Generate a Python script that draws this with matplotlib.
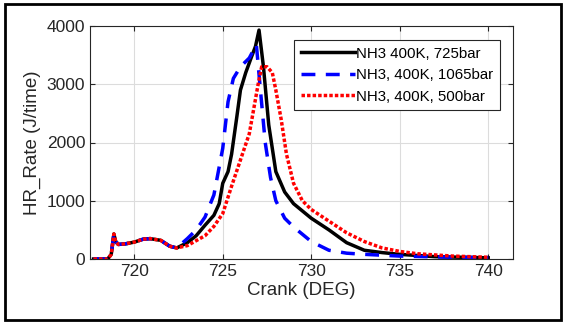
import matplotlib
matplotlib.use("Agg")
from matplotlib import pyplot as plt
from matplotlib.patches import Rectangle

plt.rcParams['font.family'] = ['Liberation Sans', 'DejaVu Sans']

# 725 bar case (solid black)
crank_725 = [717.7, 718.5, 718.7, 718.85, 718.95, 719.1, 719.5, 720.0, 720.5, 720.9, 721.5,
             722.0, 722.4, 723.0, 723.5, 724.0, 724.5, 724.8, 725.0, 725.3, 725.5, 725.8,
             726.0, 726.3, 726.6, 726.85, 727.05, 727.3, 727.6, 728.0, 728.5, 729.0, 730.0,
             731.0, 732.0, 733.0, 734.0, 735.0, 737.0, 740.0]
hr_725 = [0, 0, 80, 430, 300, 250, 260, 290, 340, 350, 320,
          220, 190, 280, 400, 580, 750, 950, 1300, 1500, 1800, 2450,
          2900, 3200, 3450, 3650, 3930, 3300, 2300, 1500, 1150, 950, 700,
          500, 280, 150, 110, 80, 40, 20]

# 1065 bar case (dashed blue)
crank_1065 = [717.7, 718.5, 718.7, 718.85, 718.95, 719.1, 719.5, 720.0, 720.5, 720.9, 721.5,
              722.0, 722.4, 723.0, 723.5, 724.0, 724.5, 725.0, 725.3, 725.6, 726.0,
              726.5, 726.9, 727.1, 727.4, 727.7, 728.0, 728.5, 729.0, 730.0, 731.0,
              732.0, 733.0, 735.0, 738.0, 740.0]
hr_1065 = [0, 0, 80, 430, 300, 250, 260, 290, 340, 350, 320,
           220, 190, 350, 500, 720, 1100, 1900, 2700, 3100, 3300,
           3450, 3680, 3000, 2000, 1400, 1000, 700, 550, 300, 150,
           100, 80, 50, 30, 25]

# 500 bar case (dotted red)
crank_500 = [717.7, 718.5, 718.7, 718.85, 718.95, 719.1, 719.5, 720.0, 720.5, 720.9, 721.5,
             722.0, 722.4, 723.0, 724.0, 724.5, 725.0, 725.5, 726.0, 726.5, 727.0,
             727.2, 727.5, 727.8, 728.0, 728.3, 728.6, 729.0, 729.5, 730.0, 731.0,
             732.0, 733.0, 734.0, 735.0, 736.0, 737.0, 738.0, 740.0]
hr_500 = [0, 0, 80, 430, 300, 250, 260, 290, 340, 350, 320,
          220, 190, 230, 400, 560, 780, 1250, 1700, 2150, 3000,
          3300, 3300, 3200, 2900, 2400, 1800, 1300, 1000, 850, 650,
          450, 300, 190, 130, 90, 70, 50, 30]

labels = ['NH3 400K, 725bar', 'NH3, 400K, 1065bar', 'NH3, 400K, 500bar']

fig = plt.figure(figsize=(5.66, 3.24), dpi=100)
ax = fig.add_axes([90 / 566, 1 - 259 / 324, 423 / 566, 233 / 324])

ax.plot(crank_725, hr_725, color='black', lw=2.5, label=labels[0])
ax.plot(crank_1065, hr_1065, color='blue', lw=2.5, ls=(0, (4, 3)), label=labels[1])
ax.plot(crank_500, hr_500, color='red', lw=2.5, ls=(0, (1, 0.6)), label=labels[2])

ax.set_xlim(717.5, 741.4)
ax.set_ylim(0, 4000)
ax.set_xticks([720, 725, 730, 735, 740])
ax.set_yticks([0, 1000, 2000, 3000, 4000])
ax.grid(True, color='#dcdcdc', lw=0.8)
ax.tick_params(direction='in', top=True, right=True, labelsize=12.5, colors='#262626')
for s in ax.spines.values():
    s.set_color('#262626')
    s.set_linewidth(0.8)
ax.set_xlabel('Crank (DEG)', fontsize=13.5, color='#262626', labelpad=2)
ax.set_ylabel('HR_Rate (J/time)', fontsize=13.5, color='#262626', labelpad=4)

leg = ax.legend(loc='upper right', bbox_to_anchor=(0.97, 0.94), fontsize=10.8,
                fancybox=False, framealpha=1, edgecolor='#262626', handlelength=3.6,
                handletextpad=0.1, borderpad=0.45, labelspacing=0.5, borderaxespad=0)
leg.get_frame().set_linewidth(0.8)

fig.patches.append(Rectangle((5 / 566, 4 / 324), 556 / 566, 316 / 324, transform=fig.transFigure,
                             fill=False, edgecolor='black', lw=2))

fig.savefig('out.png', dpi=100)
